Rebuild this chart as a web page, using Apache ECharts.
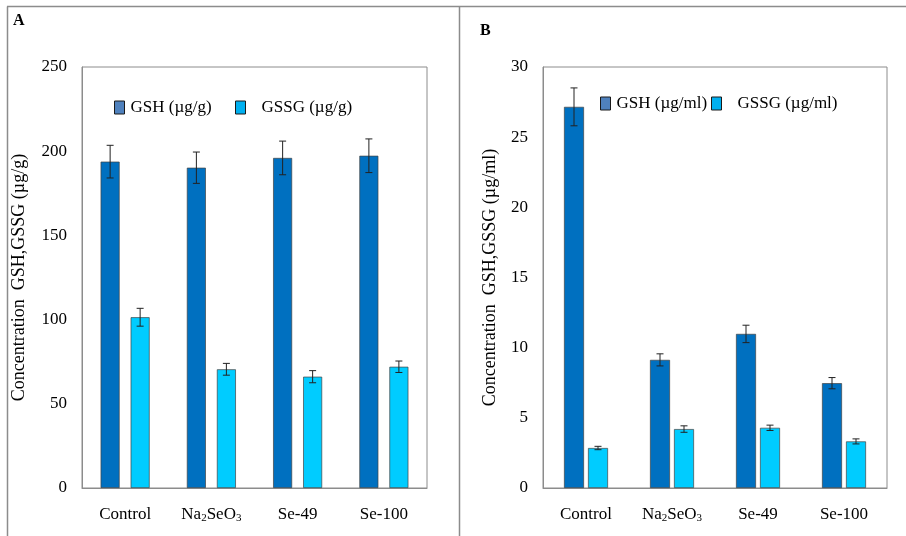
<!DOCTYPE html>
<html>
<head>
<meta charset="utf-8">
<script src="https://cdn.jsdelivr.net/npm/echarts@6/dist/echarts.min.js"></script>
<style>html,body{margin:0;padding:0;background:#fff}#c{width:906px;height:536px}</style>
</head>
<body>
<div id="c"></div>
<script>
var categories = ['Control', 'Na2SeO3', 'Se-49', 'Se-100'];
// Panel A (µg/g)
var gshA = [193.8, 190.2, 196.0, 197.3];
var gshErrA = [9.7, 9.3, 10.0, 10.0];
var gssgA = [101.4, 70.5, 66.1, 72.0];
var gssgErrA = [5.3, 3.5, 3.6, 3.4];
// Panel B (µg/ml)
var gshB = [27.16, 9.13, 10.98, 7.47];
var gshErrB = [1.35, 0.43, 0.62, 0.4];
var gssgB = [2.85, 4.2, 4.29, 3.32];
var gssgErrB = [0.12, 0.23, 0.19, 0.18];
var ticksA = {min: 0, max: 250, interval: 50};
var ticksB = {min: 0, max: 30, interval: 5};

var FONT = '"Liberation Serif", "Times New Roman", serif';
var GSH_COLOR = '#0070c0', GSSG_COLOR = '#00ccff';

function catLabel(v) {
  if (v === 'Na2SeO3') return 'Na{sub|2}SeO{sub|3}';
  return v;
}
var richSub = {sub: {fontSize: 11, fontFamily: FONT, color: '#000', verticalAlign: 'bottom', padding: [7, 0, 0, 0]}};

function errSeries(name, vals, errs, xi, yi, offset) {
  return {
    type: 'custom', name: name, xAxisIndex: xi, yAxisIndex: yi, z: 5,
    data: vals.map(function (v, i) { return [i, v - errs[i], v + errs[i]]; }),
    renderItem: function (params, api) {
      var lo = api.coord([api.value(0), api.value(1)]);
      var hi = api.coord([api.value(0), api.value(2)]);
      var x = lo[0] + offset, h = 3.5;
      var st = {stroke: '#222', lineWidth: 1};
      return {type: 'group', children: [
        {type: 'line', shape: {x1: x, y1: lo[1], x2: x, y2: hi[1]}, style: st},
        {type: 'line', shape: {x1: x - h, y1: lo[1], x2: x + h, y2: lo[1]}, style: st},
        {type: 'line', shape: {x1: x - h, y1: hi[1], x2: x + h, y2: hi[1]}, style: st}
      ]};
    }
  };
}

function legendItem(name, left, top, color, textGap) {
  return {
    left: left, top: top, padding: 0, icon: 'rect', itemWidth: 10, itemHeight: 13, itemGap: 0,
    selectedMode: false,
    textStyle: {fontFamily: FONT, fontSize: 17, color: '#000', padding: [0, 0, 0, textGap]},
    data: [{name: name, itemStyle: {color: color, borderColor: '#1a1a1a', borderWidth: 1}}]
  };
}

function yAxisDef(gi, t, name, gap) {
  return {
    type: 'value', gridIndex: gi, min: t.min, max: t.max, interval: t.interval,
    name: name, nameLocation: 'middle', nameRotate: 90, nameGap: gap,
    nameTextStyle: {fontFamily: FONT, fontSize: 18, color: '#000'},
    axisLine: {show: true, lineStyle: {color: '#8c8c8c'}},
    axisTick: {show: false}, splitLine: {show: false},
    axisLabel: {fontFamily: FONT, fontSize: 17, color: '#000', margin: 15}
  };
}
function xAxisDef(gi) {
  return {
    type: 'category', gridIndex: gi, data: categories,
    axisLine: {lineStyle: {color: '#8c8c8c'}}, axisTick: {show: false},
    axisLabel: {interval: 0, fontFamily: FONT, fontSize: 17, color: '#000', margin: 18, formatter: catLabel, rich: richSub}
  };
}
var barBorder = {borderColor: '#444', borderWidth: 0.7};

var option = {
  animation: false,
  backgroundColor: '#fff',
  grid: [
    {left: 82, right: 479, top: 67, bottom: 48, show: true, borderColor: '#8c8c8c', borderWidth: 1},
    {left: 543, right: 19, top: 67, bottom: 48, show: true, borderColor: '#8c8c8c', borderWidth: 1}
  ],
  xAxis: [xAxisDef(0), xAxisDef(1)],
  yAxis: [
    yAxisDef(0, ticksA, 'Concentration  GSH,GSSG (µg/g)', 54),
    yAxisDef(1, ticksB, 'Concentration  GSH,GSSG (µg/ml)', 44)
  ],
  legend: [
    legendItem('GSH (µg/g)', 114, 99, '#4f81bd', 1),
    legendItem('GSSG (µg/g)', 235, 99, '#00b0f0', 11),
    legendItem('GSH (µg/ml)', 600, 95, '#4f81bd', 1),
    legendItem('GSSG (µg/ml)', 711, 95, '#00b0f0', 11)
  ],
  graphic: [
    {type: 'line', shape: {x1: 7, y1: 6.5, x2: 906, y2: 6.5}, style: {stroke: '#8c8c8c', lineWidth: 1.5}},
    {type: 'line', shape: {x1: 7.5, y1: 6.5, x2: 7.5, y2: 536}, style: {stroke: '#8c8c8c', lineWidth: 1.5}},
    {type: 'line', shape: {x1: 459.5, y1: 6.5, x2: 459.5, y2: 536}, style: {stroke: '#8c8c8c', lineWidth: 1.5}},
    {type: 'text', left: 13, top: 13, style: {text: 'A', font: 'bold 16px ' + FONT, fill: '#000'}},
    {type: 'text', left: 480, top: 23, style: {text: 'B', font: 'bold 16px ' + FONT, fill: '#000'}}
  ],
  series: [
    {type: 'bar', name: 'GSH (µg/g)', xAxisIndex: 0, yAxisIndex: 0, data: gshA, barWidth: 19, barGap: '58%',
     itemStyle: Object.assign({color: GSH_COLOR}, barBorder)},
    {type: 'bar', name: 'GSSG (µg/g)', xAxisIndex: 0, yAxisIndex: 0, data: gssgA, barWidth: 19, barGap: '58%',
     itemStyle: Object.assign({color: GSSG_COLOR}, barBorder)},
    {type: 'bar', name: 'GSH (µg/ml)', xAxisIndex: 1, yAxisIndex: 1, data: gshB, barWidth: 20, barGap: '20%',
     itemStyle: Object.assign({color: GSH_COLOR}, barBorder)},
    {type: 'bar', name: 'GSSG (µg/ml)', xAxisIndex: 1, yAxisIndex: 1, data: gssgB, barWidth: 20, barGap: '20%',
     itemStyle: Object.assign({color: GSSG_COLOR}, barBorder)},
    errSeries('errGSHA', gshA, gshErrA, 0, 0, -15),
    errSeries('errGSSGA', gssgA, gssgErrA, 0, 0, 15),
    errSeries('errGSHB', gshB, gshErrB, 1, 1, -12),
    errSeries('errGSSGB', gssgB, gssgErrB, 1, 1, 12)
  ]
};
var chart = echarts.init(document.getElementById('c'), null, {renderer: 'canvas'});
chart.setOption(option);
</script>
</body>
</html>
